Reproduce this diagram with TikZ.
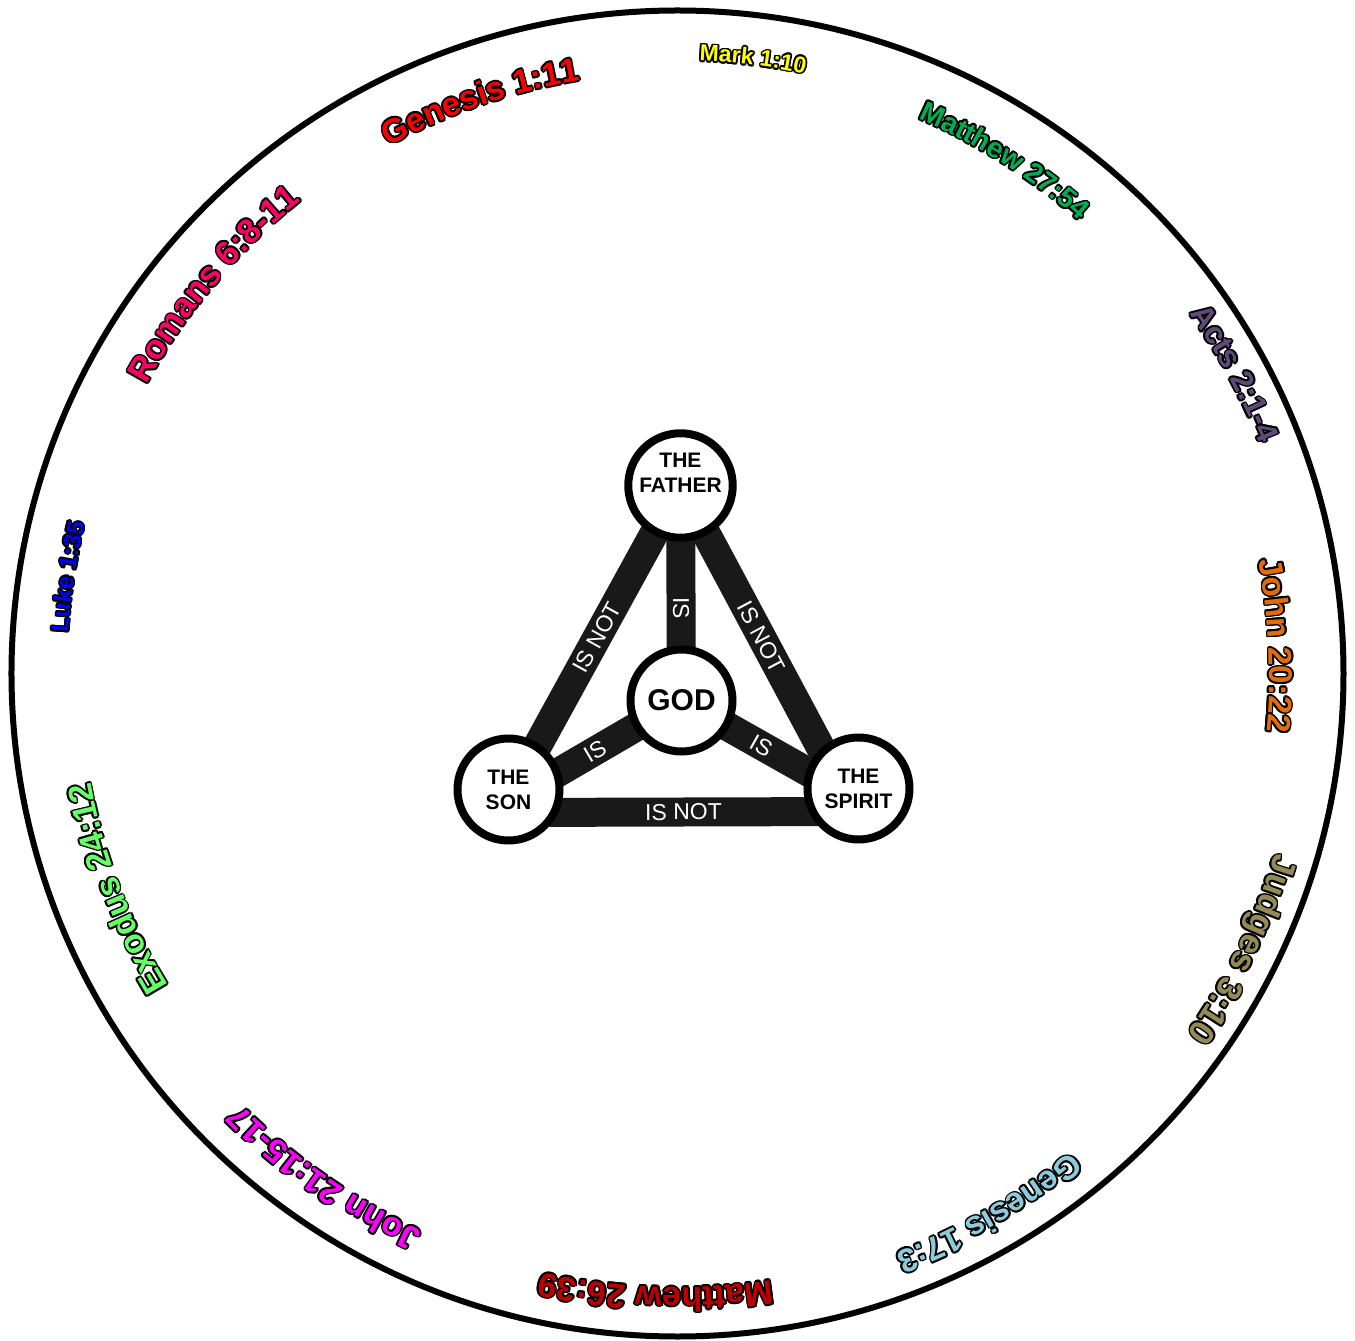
\documentclass[tikz,border=0pt]{standalone}
\usepackage{fontspec}
\setmainfont{Liberation Sans}
\usepackage{tikz}
\usetikzlibrary{decorations.text}
\definecolor{gen1}{HTML}{FF0000}
\definecolor{mark}{HTML}{FFFF00}
\definecolor{mat27}{HTML}{00B050}
\definecolor{acts}{HTML}{604A7B}
\definecolor{john20}{HTML}{E36C09}
\definecolor{judg}{HTML}{948A54}
\definecolor{gen17}{HTML}{8CCBDC}
\definecolor{mat26}{HTML}{C00000}
\definecolor{john21}{HTML}{FF00FF}
\definecolor{exod}{HTML}{66FF66}
\definecolor{luke}{HTML}{0000FF}
\definecolor{rom}{HTML}{FF0066}
\pgfdeclarelayer{bars}
\pgfsetlayers{bars,main}
% #1 mid angle, #2 radius, #3 size, #4 colour, #5 text
\newcommand\passage[5]{%
  \foreach \a in {0,30,...,330}
    \path[shift={(\a:1.7)},decorate,decoration={text along path,text align=center,
      text={|\fontsize{#3}{#3}\selectfont\bfseries\color{black}|#5}}]
      ({#1+40}:#2) arc[start angle={#1+40},end angle={#1-40},radius=#2];
  \path[decorate,decoration={text along path,text align=center,
      text={|\fontsize{#3}{#3}\selectfont\bfseries\color{#4}|#5}}]
      ({#1+40}:#2) arc[start angle={#1+40},end angle={#1-40},radius=#2];
}

\begin{document}
\begin{tikzpicture}[x=1pt,y=1pt,
  person/.style={circle,draw,line width=8,fill=white,minimum size=102,inner sep=0,
    align=center,font=\fontsize{21}{25}\selectfont\bfseries},
  bar/.style={line width=29,black!90},
  rel/.style={text=white,font=\fontsize{23}{23}\selectfont,inner sep=0,sloped}]
\useasboundingbox (-677.5,-667.5) rectangle (677.5,673.5);
\draw[line width=6] (0,0) ellipse[x radius=666,y radius=663];

% the trinity
\node[person] (father) at (3,188) {THE\\FATHER\\\mbox{}};
\node[person,font=\fontsize{30}{30}\selectfont\bfseries] (god) at (4,-27) {GOD};
\node[person] (son) at (-169,-116) {THE\\SON};
\node[person] (spirit) at (181,-115) {THE\\SPIRIT};
\begin{pgfonlayer}{bars}
\draw[bar] ([xshift=5]son.center) -- node[rel]{IS NOT} (father.center);
\draw[bar] (father.center) -- node[rel]{IS NOT} ([xshift=-16]spirit.center);
\draw[bar] (father.center) -- node[rel,pos=0.57]{IS} (god.center);
\draw[bar] ([yshift=-12]son.center) -- node[rel]{IS} (god.center);
\draw[bar] (god.center) -- node[rel,pos=0.45]{IS} ([yshift=-12]spirit.center);
\draw[bar] ([yshift=-23]son.center) -- node[rel]{IS NOT} ([yshift=-23]spirit.center);
\end{pgfonlayer}

% verses round the rim
\passage{109}{601}{33}{gen1}{Genesis 1:11}
\passage{83}{613}{23}{mark}{Mark 1:10}
\passage{57.5}{605}{28}{mat27}{Matthew 27:54}
\passage{28.3}{626}{31}{acts}{Acts 2:1-4}
\passage{2.7}{592}{33}{john20}{John 20:22}
\passage{-26}{624}{35}{judg}{Judges 3:10}
\passage{-60}{619}{33}{gen17}{Genesis 17:3}
\passage{-92}{614}{34}{mat26}{Matthew 26:39}
\passage{-125}{613}{33.5}{john21}{John 21:15-17}
\passage{-159}{597}{34}{exod}{Exodus 24:12}
\passage{171}{611}{24}{luke}{Luke 1:35}
\passage{140}{604}{34}{rom}{Romans 6:8-11}
\end{tikzpicture}
\end{document}
